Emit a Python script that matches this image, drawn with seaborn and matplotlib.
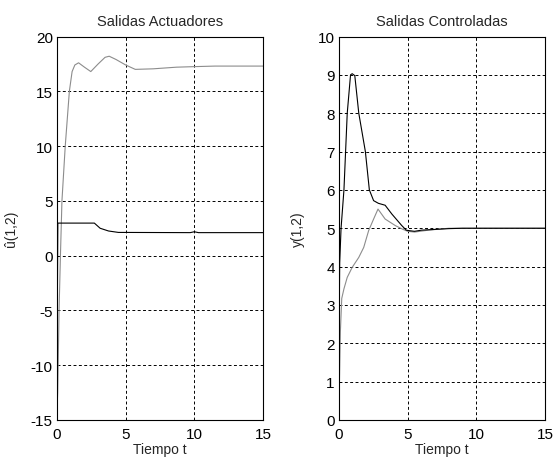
import matplotlib
matplotlib.use("Agg")
import matplotlib.pyplot as plt
import seaborn as sns
import pandas as pd

# ---- data ----
t_act_gray = [0, 0.0, 0.05, 0.15, 0.25, 0.36, 0.6, 0.9, 1.1, 1.3, 1.57, 2.0, 2.46, 3.0, 3.5, 3.8, 4.3, 5.0, 5.7, 7.0, 8.7, 10.0, 11.5, 15.0]
u_act_gray = [-15, -14, -12.5, -5, 0, 5, 10, 15, 16.8, 17.4, 17.6, 17.2, 16.8, 17.5, 18.1, 18.2, 17.9, 17.4, 17.0, 17.05, 17.2, 17.25, 17.3, 17.3]

t_act_black = [0, 0.03, 0.06, 2.72, 3.14, 3.75, 4.47, 9.7, 10.0, 10.3, 15.0]
u_act_black = [-8.2, -3.3, 2.97, 2.97, 2.5, 2.25, 2.12, 2.1, 2.18, 2.1, 2.1]

t_ctl_black = [0, 0.05, 0.15, 0.36, 0.6, 0.84, 0.96, 1.15, 1.44, 1.92, 2.21, 2.52, 2.87, 3.36, 3.85, 4.57, 4.9, 5.05, 5.5, 6.0, 7.0, 8.0, 9.0, 15.0]
y_ctl_black = [2.1, 4.1, 5.0, 6.0, 8.0, 9.0, 9.03, 8.98, 8.0, 7.0, 6.0, 5.72, 5.65, 5.6, 5.37, 5.07, 4.95, 4.94, 4.92, 4.95, 4.97, 4.99, 5.0, 5.0]

t_ctl_gray = [0, 0.03, 0.1, 0.2, 0.36, 0.6, 0.96, 1.44, 1.8, 2.16, 2.52, 2.84, 3.36, 4.1, 4.66, 5.0, 5.5, 6.5, 8.0, 15.0]
y_ctl_gray = [0, 1.0, 2.3, 3.17, 3.42, 3.72, 3.98, 4.24, 4.5, 4.94, 5.24, 5.5, 5.24, 5.07, 4.97, 4.92, 4.9, 4.95, 5.0, 5.0]

titles = ["Salidas Actuadores", "Salidas Controladas"]
ylabels = ["\u00fb(1,2)", "y(1,2)"]
xlabel = "Tiempo t"
xticks = [0, 5, 10, 15]
yticks_left = [-15, -10, -5, 0, 5, 10, 15, 20]
yticks_right = [0, 1, 2, 3, 4, 5, 6, 7, 8, 9, 10]

sns.set_style("white")
plt.rcParams['font.family'] = ['Liberation Sans', 'DejaVu Sans']
plt.rcParams['axes.unicode_minus'] = False

fig = plt.figure(figsize=(5.53, 4.60), dpi=100)
axL = fig.add_axes([57/553, 1-421/460, 206/553, (421-37.5)/460])
axR = fig.add_axes([339/553, 1-421/460, 206/553, (421-37.5)/460])

gray = "#8c8c8c"
dfLg = pd.DataFrame({"t": t_act_gray, "v": u_act_gray})
dfLb = pd.DataFrame({"t": t_act_black, "v": u_act_black})
dfRg = pd.DataFrame({"t": t_ctl_gray, "v": y_ctl_gray})
dfRb = pd.DataFrame({"t": t_ctl_black, "v": y_ctl_black})

sns.lineplot(data=dfLg, x="t", y="v", ax=axL, color=gray, lw=0.8, sort=False, estimator=None)
sns.lineplot(data=dfLb, x="t", y="v", ax=axL, color="black", lw=0.8, sort=False, estimator=None)
sns.lineplot(data=dfRg, x="t", y="v", ax=axR, color=gray, lw=0.8, sort=False, estimator=None)
sns.lineplot(data=dfRb, x="t", y="v", ax=axR, color="black", lw=0.8, sort=False, estimator=None)

for ax, title, yl, yt, ylim in [(axL, titles[0], ylabels[0], yticks_left, (-15, 20)),
                                (axR, titles[1], ylabels[1], yticks_right, (0, 10))]:
    ax.set_xlim(0, 15)
    ax.set_ylim(*ylim)
    ax.set_xticks(xticks)
    ax.set_yticks(yt)
    ax.grid(True, color="black", linestyle=(0, (3, 2.5)), linewidth=0.7)
    ax.set_axisbelow(True)
    for s in ax.spines.values():
        s.set_color("black")
        s.set_linewidth(0.8)
    ax.tick_params(direction="in", length=3, labelsize=11, colors="black", pad=3)
    ax.tick_params(axis="x", pad=5)
    ax.set_title(title, fontsize=10.5, pad=8)
    ax.set_xlabel(xlabel, fontsize=10, labelpad=1)
    ax.set_ylabel(yl, fontsize=10, labelpad=9)

fig.savefig("out.png", dpi=100, facecolor="white")
